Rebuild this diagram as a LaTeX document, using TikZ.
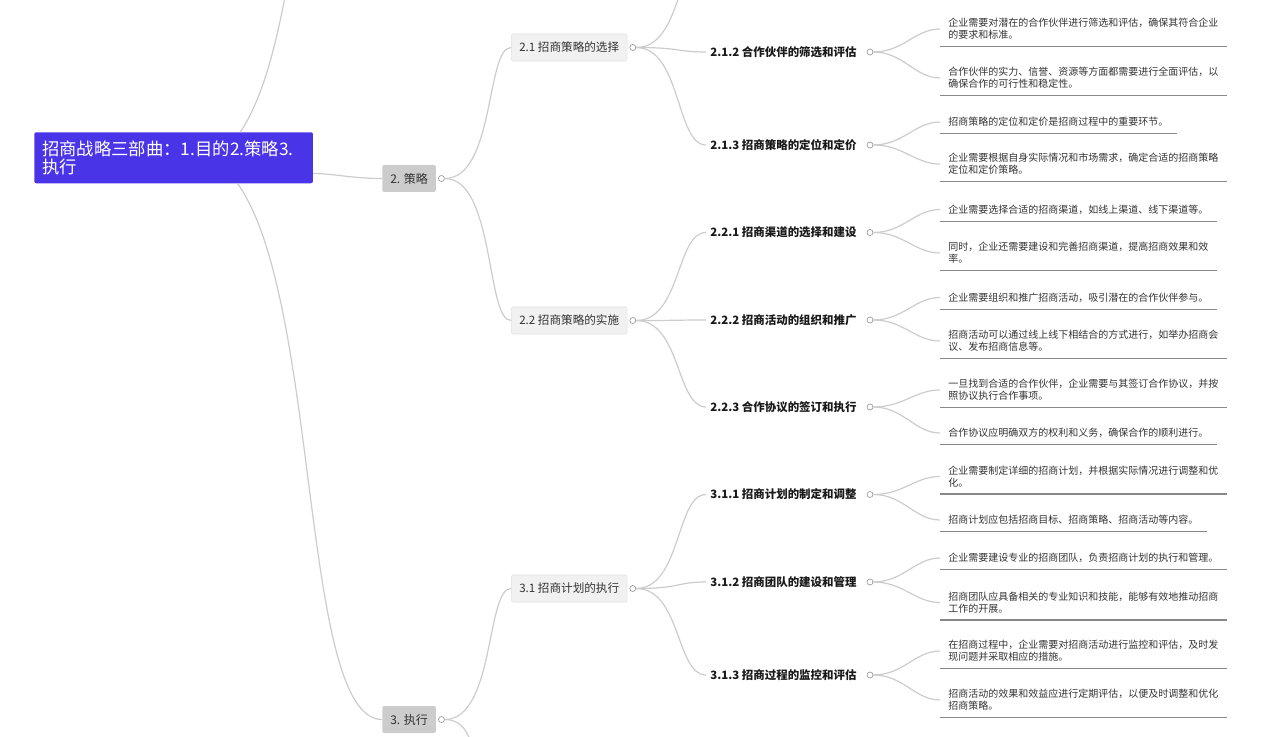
\documentclass[tikz,border=0pt]{standalone}
\usepackage{fontspec}
\setmainfont{Noto Sans CJK SC}
\usepackage{xcolor}
\usetikzlibrary{positioning}

\definecolor{rootblue}{RGB}{74,52,232}
\definecolor{linkgray}{RGB}{204,204,204}
\definecolor{boxgray}{RGB}{204,204,204}
\definecolor{boxlight}{RGB}{241,241,241}
\definecolor{boxedge}{RGB}{226,226,226}
\definecolor{ulgray}{RGB}{136,136,136}
\definecolor{textgray}{RGB}{51,51,51}

\begin{document}
\begin{tikzpicture}[
  x=0.75pt, y=-0.75pt,
  root/.style={fill=rootblue, rounded corners=1.5pt, text=white, align=left,
    text width=197pt, inner xsep=6pt, minimum height=38.25pt,
    font=\fontsize{13}{13.5}\selectfont},
  lvlone/.style={fill=boxgray, rounded corners=1.5pt, text=textgray,
    minimum height=20.25pt, inner xsep=6pt, font=\fontsize{9}{10}\selectfont},
  lvltwo/.style={fill=boxlight, draw=boxedge, line width=0.4pt, rounded corners=1.5pt,
    text=textgray, minimum height=20.25pt, inner xsep=6pt, font=\fontsize{8.7}{10}\selectfont},
  lvlthree/.style={inner xsep=3pt, text=black!90, font=\fontsize{8.6}{10}\selectfont\bfseries},
  leaf/.style={align=left, inner xsep=6pt, inner ysep=5pt, text=textgray,
    font=\fontsize{7.5}{9}\selectfont},
  toggle/.style={circle, draw=black!40, fill=white, line width=0.5pt,
    minimum size=4.5pt, inner sep=0pt},
  link/.style={draw=linkgray, line width=0.9pt},
  uline/.style={draw=ulgray, line width=1pt}
]
  \useasboundingbox (0,0) rectangle (1280,737);
  \clip (0,0) rectangle (1280,737);

  % main topic and first level
  \node (root) [root, anchor=north west] at (34,132) {招商战略三部曲：1.目的2.策略3.\\执行};
  \node (n2) [lvlone, anchor=west] at (382,178.5) {2. 策略};
  \node (n3) [lvlone, anchor=west] at (382,719.5) {3. 执行};
  \node (t2) [toggle, right=1.5pt of n2] {};
  \node (t3) [toggle, right=1.5pt of n3] {};
  \coordinate (aim1) at (382,-403);
  \coordinate (aim32) at (511,860);

  \draw[link] ([xshift=50pt]root.north) .. controls (320,15) and (300,-403) .. (aim1);
  \draw[link] ([yshift=7.5pt]root.south east) .. controls +(20,0) and +(-30,0) .. (n2.west);
  \draw[link] ([xshift=48pt]root.south) .. controls +(83,117) and +(-82,0) .. (n3.west);
  \draw[link] (t3.east) .. controls +(55,0) and +(-55,0) .. (aim32);

  % second level
  \node (n21) [lvltwo, anchor=west] at (511,47.5) {2.1 招商策略的选择};
  \node (n22) [lvltwo, anchor=west] at (511,320.5) {2.2 招商策略的实施};
  \node (n31) [lvltwo, anchor=west] at (511,588.5) {3.1 招商计划的执行};
  \node (t21) [toggle, right=1.5pt of n21] {};
  \node (t22) [toggle, right=1.5pt of n22] {};
  \node (t31) [toggle, right=1.5pt of n31] {};
  \coordinate (aim211) at (706,-41);

  \draw[link] (t2.east) .. controls +(50,0) and +(-25,0) .. (n21.west);
  \draw[link] (t2.east) .. controls +(50,0) and +(-25,0) .. (n22.west);
  \draw[link] (t3.east) .. controls +(50,0) and +(-25,0) .. (n31.west);

  % third level
  \node (n212) [lvlthree, anchor=west] at (706,52) {2.1.2 合作伙伴的筛选和评估};
  \node (n213) [lvlthree, anchor=west] at (706,145) {2.1.3 招商策略的定位和定价};
  \node (n221) [lvlthree, anchor=west] at (706,232.5) {2.2.1 招商渠道的选择和建设};
  \node (n222) [lvlthree, anchor=west] at (706,320) {2.2.2 招商活动的组织和推广};
  \node (n223) [lvlthree, anchor=west] at (706,407) {2.2.3 合作协议的签订和执行};
  \node (n311) [lvlthree, anchor=west] at (706,494.5) {3.1.1 招商计划的制定和调整};
  \node (n312) [lvlthree, anchor=west] at (706,582) {3.1.2 招商团队的建设和管理};
  \node (n313) [lvlthree, anchor=west] at (706,675) {3.1.3 招商过程的监控和评估};
  \node (t212) [toggle] at (870,52) {};
  \node (t213) [toggle] at (870,145) {};
  \node (t221) [toggle] at (870,232.5) {};
  \node (t222) [toggle] at (870,320) {};
  \node (t223) [toggle] at (870,407) {};
  \node (t311) [toggle] at (870,494.5) {};
  \node (t312) [toggle] at (870,582) {};
  \node (t313) [toggle] at (870,675) {};

  \draw[link] (t21.east) .. controls +(45,0) and +(-30,0) .. (aim211);
  \draw[link] (t21.east) .. controls +(45,0) and +(-30,0) .. (n212.west);
  \draw[link] (t21.east) .. controls +(45,0) and +(-30,0) .. (n213.west);
  \draw[link] (t22.east) .. controls +(45,0) and +(-30,0) .. (n221.west);
  \draw[link] (t22.east) .. controls +(45,0) and +(-30,0) .. (n222.west);
  \draw[link] (t22.east) .. controls +(45,0) and +(-30,0) .. (n223.west);
  \draw[link] (t31.east) .. controls +(45,0) and +(-30,0) .. (n311.west);
  \draw[link] (t31.east) .. controls +(45,0) and +(-30,0) .. (n312.west);
  \draw[link] (t31.east) .. controls +(45,0) and +(-30,0) .. (n313.west);

  % leaves
  \node (l212a) [leaf, anchor=west] at (940,29) {企业需要对潜在的合作伙伴进行筛选和评估，确保其符合企业\\的要求和标准。};
  \node (l212b) [leaf, anchor=west] at (940,78) {合作伙伴的实力、信誉、资源等方面都需要进行全面评估，以\\确保合作的可行性和稳定性。};
  \node (l213a) [leaf, anchor=west] at (940,122) {招商策略的定位和定价是招商过程中的重要环节。};
  \node (l213b) [leaf, anchor=west] at (940,164) {企业需要根据自身实际情况和市场需求，确定合适的招商策略\\定位和定价策略。};
  \node (l221a) [leaf, anchor=west] at (940,209.5) {企业需要选择合适的招商渠道，如线上渠道、线下渠道等。};
  \node (l221b) [leaf, anchor=west] at (940,253) {同时，企业还需要建设和完善招商渠道，提高招商效果和效\\率。};
  \node (l222a) [leaf, anchor=west] at (940,297.5) {企业需要组织和推广招商活动，吸引潜在的合作伙伴参与。};
  \node (l222b) [leaf, anchor=west] at (940,341) {招商活动可以通过线上线下相结合的方式进行，如举办招商会\\议、发布招商信息等。};
  \node (l223a) [leaf, anchor=west] at (940,390) {一旦找到合适的合作伙伴，企业需要与其签订合作协议，并按\\照协议执行合作事项。};
  \node (l223b) [leaf, anchor=west] at (940,433) {合作协议应明确双方的权利和义务，确保合作的顺利进行。};
  \node (l311a) [leaf, anchor=west] at (940,476.5) {企业需要制定详细的招商计划，并根据实际情况进行调整和优\\化。};
  \node (l311b) [leaf, anchor=west] at (940,520) {招商计划应包括招商目标、招商策略、招商活动等内容。};
  \node (l312a) [leaf, anchor=west] at (940,558) {企业需要建设专业的招商团队，负责招商计划的执行和管理。};
  \node (l312b) [leaf, anchor=west] at (940,602.5) {招商团队应具备相关的专业知识和技能，能够有效地推动招商\\工作的开展。};
  \node (l313a) [leaf, anchor=west] at (940,651) {在招商过程中，企业需要对招商活动进行监控和评估，及时发\\现问题并采取相应的措施。};
  \node (l313b) [leaf, anchor=west] at (940,700) {招商活动的效果和效益应进行定期评估，以便及时调整和优化\\招商策略。};

  \draw[uline] (l212a.south west) -- (l212a.south east);
  \draw[uline] (l212b.south west) -- (l212b.south east);
  \draw[uline] (l213a.south west) -- (l213a.south east);
  \draw[uline] (l213b.south west) -- (l213b.south east);
  \draw[uline] (l221a.south west) -- (l221a.south east);
  \draw[uline] (l221b.south west) -- (l221b.south east);
  \draw[uline] (l222a.south west) -- (l222a.south east);
  \draw[uline] (l222b.south west) -- (l222b.south east);
  \draw[uline] (l223a.south west) -- (l223a.south east);
  \draw[uline] (l223b.south west) -- (l223b.south east);
  \draw[uline] (l311a.south west) -- (l311a.south east);
  \draw[uline] (l311b.south west) -- (l311b.south east);
  \draw[uline] (l312a.south west) -- (l312a.south east);
  \draw[uline] (l312b.south west) -- (l312b.south east);
  \draw[uline] (l313a.south west) -- (l313a.south east);
  \draw[uline] (l313b.south west) -- (l313b.south east);

  \draw[link] (t212.east) .. controls +(30,0) and +(-25,0) .. (l212a.west);
  \draw[link] (t212.east) .. controls +(30,0) and +(-25,0) .. (l212b.west);
  \draw[link] (t213.east) .. controls +(30,0) and +(-25,0) .. (l213a.west);
  \draw[link] (t213.east) .. controls +(30,0) and +(-25,0) .. (l213b.west);
  \draw[link] (t221.east) .. controls +(30,0) and +(-25,0) .. (l221a.west);
  \draw[link] (t221.east) .. controls +(30,0) and +(-25,0) .. (l221b.west);
  \draw[link] (t222.east) .. controls +(30,0) and +(-25,0) .. (l222a.west);
  \draw[link] (t222.east) .. controls +(30,0) and +(-25,0) .. (l222b.west);
  \draw[link] (t223.east) .. controls +(30,0) and +(-25,0) .. (l223a.west);
  \draw[link] (t223.east) .. controls +(30,0) and +(-25,0) .. (l223b.west);
  \draw[link] (t311.east) .. controls +(30,0) and +(-25,0) .. (l311a.west);
  \draw[link] (t311.east) .. controls +(30,0) and +(-25,0) .. (l311b.west);
  \draw[link] (t312.east) .. controls +(30,0) and +(-25,0) .. (l312a.west);
  \draw[link] (t312.east) .. controls +(30,0) and +(-25,0) .. (l312b.west);
  \draw[link] (t313.east) .. controls +(30,0) and +(-25,0) .. (l313a.west);
  \draw[link] (t313.east) .. controls +(30,0) and +(-25,0) .. (l313b.west);
\end{tikzpicture}
\end{document}
